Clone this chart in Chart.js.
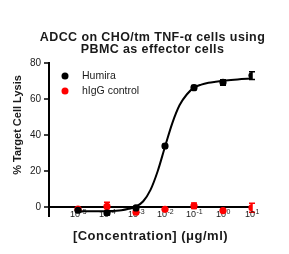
<!DOCTYPE html>
<html>
<head>
<meta charset="utf-8">
<script src="https://cdn.jsdelivr.net/npm/chart.js@4.4.1/dist/chart.umd.min.js"></script>
<style>
  html, body { margin: 0; padding: 0; background: #fff; }
  #wrap { width: 289px; height: 254px; }
</style>
</head>
<body>
<div id="wrap"><canvas id="adccChart" width="289" height="254"></canvas></div>
<script>
// log10 of concentration (ug/ml)
const LOG_CONC = [-5, -4, -3, -2, -1, 0, 1];
const X_TICKS = [-5, -4, -3, -2, -1, 0, 1];
const Y_TICKS = [0, 20, 40, 60, 80];

const HUMIRA_LYSIS = [-1.8, -3.4, -0.5, 33.9, 66.3, 69.2, 73.0];
const HUMIRA_ERR = [0.8, 0.9, 0.8, 1.0, 1.2, 1.5, 2.1];
const IGG_LYSIS = [-1.2, 0.3, -2.9, -1.3, 0.7, -2.0, -0.4];
const IGG_ERR = [0.8, 2.3, 0.8, 0.6, 1.5, 0.8, 2.5];

// fitted curve for Humira
const CURVE_LOG_CONC = [-5, -4.5, -4, -3.5, -3.25, -3, -2.75, -2.5, -2.25, -2, -1.75, -1.5, -1.25, -1, -0.75, -0.5, -0.25, 0, 0.5, 1];
const CURVE_LYSIS = [-2.4, -2.4, -2.3, -1.8, -1.0, 0.2, 3.2, 9.5, 20, 33.5, 46.5, 56.5, 62.5, 66.3, 68.0, 69.0, 69.6, 70.1, 70.9, 71.4];

const TITLE_LINES = ['ADCC on CHO/tm TNF-α cells using', 'PBMC as effector cells'];
const X_TITLE = '[Concentration] (μg/ml)';
const Y_TITLE = '% Target Cell Lysis';

const FONT = "'Liberation Sans', Arial, sans-serif";
const TEXT_COLOR = '#1a1a1a';

const toPoints = (xs, ys) => xs.map((x, i) => ({ x, y: ys[i] }));

// error bars under the dots
const errorBars = {
    id: 'errorBars',
    beforeDatasetsDraw(chart) {
        const { ctx, scales: { x, y } } = chart;
        chart.data.datasets.forEach(ds => {
            if (!ds.errors) return;
            ctx.save();
            ctx.strokeStyle = ds.backgroundColor;
            ctx.lineWidth = 1.5;
            ds.data.forEach((p, i) => {
                const e = ds.errors[i];
                const px = x.getPixelForValue(p.x);
                const top = y.getPixelForValue(p.y + e);
                const bot = y.getPixelForValue(p.y - e);
                ctx.beginPath();
                ctx.moveTo(px, top); ctx.lineTo(px, bot);
                ctx.moveTo(px - 3, top); ctx.lineTo(px + 3, top);
                ctx.moveTo(px - 3, bot); ctx.lineTo(px + 3, bot);
                ctx.stroke();
            });
            ctx.restore();
        });
    }
};

// x tick labels as 10 with raised exponent, hung under the zero line
const powerTicks = {
    id: 'powerTicks',
    beforeDatasetsDraw(chart) {
        const { ctx, scales: { x, y } } = chart;
        const baseY = y.getPixelForValue(0) + 8;
        ctx.save();
        ctx.fillStyle = TEXT_COLOR;
        ctx.textBaseline = 'middle';
        ctx.textAlign = 'left';
        x.ticks.forEach(t => {
            const exp = String(t.value);
            ctx.font = '9px ' + FONT;
            const wBase = ctx.measureText('10').width;
            ctx.font = '7px ' + FONT;
            const wExp = ctx.measureText(exp).width;
            const left = x.getPixelForValue(t.value) - (wBase + wExp) / 2;
            ctx.font = '9px ' + FONT;
            ctx.fillText('10', left, baseY);
            ctx.font = '7px ' + FONT;
            ctx.fillText(exp, left + wBase + 0.5, baseY - 3);
        });
        ctx.restore();
    }
};

// legend inside the plot, chart title and axis titles
const labelsPlugin = {
    id: 'labelsPlugin',
    afterDraw(chart) {
        const { ctx, chartArea } = chart;
        const midX = (chartArea.left + chartArea.right) / 2;
        ctx.save();
        ctx.textBaseline = 'middle';
        ctx.fillStyle = TEXT_COLOR;

        const items = chart.data.datasets.filter(ds => ds.label);
        items.forEach((ds, i) => {
            const cy = 76 + i * 15;
            ctx.fillStyle = ds.backgroundColor;
            ctx.beginPath();
            ctx.arc(65, cy, 3.5, 0, Math.PI * 2);
            ctx.fill();
            ctx.fillStyle = TEXT_COLOR;
            ctx.font = '10.5px ' + FONT;
            ctx.textAlign = 'left';
            ctx.fillText(ds.label, 82, cy);
        });

        ctx.textAlign = 'center';
        ctx.textBaseline = 'alphabetic';
        ctx.font = 'bold 12.5px ' + FONT;
        ctx.letterSpacing = '0.4px';
        TITLE_LINES.forEach((line, i) => ctx.fillText(line, midX + 2, 41 + i * 11.7));

        ctx.font = 'bold 13px ' + FONT;
        ctx.letterSpacing = '0.5px';
        ctx.fillText(X_TITLE, midX, 240);

        ctx.textBaseline = 'middle';
        ctx.letterSpacing = '0px';
        ctx.translate(18, 125);
        ctx.rotate(-Math.PI / 2);
        ctx.font = 'bold 11px ' + FONT;
        ctx.fillText(Y_TITLE, 0, 0);
        ctx.restore();
    }
};

new Chart(document.getElementById('adccChart').getContext('2d'), {
    type: 'scatter',
    data: {
        datasets: [
            {
                label: 'Humira',
                data: toPoints(LOG_CONC, HUMIRA_LYSIS),
                errors: HUMIRA_ERR,
                backgroundColor: '#000000',
                borderColor: '#000000',
                pointRadius: 3.6,
                pointBorderWidth: 0,
                order: 0
            },
            {
                label: 'hIgG control',
                data: toPoints(LOG_CONC, IGG_LYSIS),
                errors: IGG_ERR,
                backgroundColor: '#ff0000',
                borderColor: '#ff0000',
                pointRadius: 3.6,
                pointBorderWidth: 0,
                order: 1
            },
            {
                data: toPoints(CURVE_LOG_CONC, CURVE_LYSIS),
                showLine: true,
                borderColor: '#000000',
                borderWidth: 2,
                pointRadius: 0,
                cubicInterpolationMode: 'monotone',
                order: 2
            }
        ]
    },
    options: {
        responsive: false,
        animation: false,
        events: [],
        layout: { padding: { top: 63, right: 37, left: 0, bottom: 0 } },
        plugins: {
            legend: { display: false },
            tooltip: { enabled: false },
            title: { display: false }
        },
        scales: {
            x: {
                type: 'linear',
                min: -6,
                max: 1,
                afterBuildTicks: scale => {
                    scale.ticks = X_TICKS.map(v => ({ value: v }));
                },
                afterFit: scale => { scale.height = 38; },
                grid: { display: false },
                border: { display: false },
                ticks: { display: false }
            },
            y: {
                min: -5,
                max: 80,
                afterBuildTicks: scale => {
                    scale.ticks = Y_TICKS.map(v => ({ value: v }));
                },
                afterFit: scale => { scale.width = 49; },
                grid: {
                    drawOnChartArea: true,
                    color: c => (c.tick && c.tick.value === 0 ? '#000000' : 'rgba(0,0,0,0)'),
                    lineWidth: 2,
                    tickColor: '#000000',
                    tickLength: 5,
                    tickWidth: 1.5
                },
                border: { display: true, color: '#000000', width: 2 },
                ticks: {
                    color: TEXT_COLOR,
                    padding: 3,
                    font: { family: FONT, size: 10 }
                }
            }
        }
    },
    plugins: [errorBars, powerTicks, labelsPlugin]
});
</script>
</body>
</html>
